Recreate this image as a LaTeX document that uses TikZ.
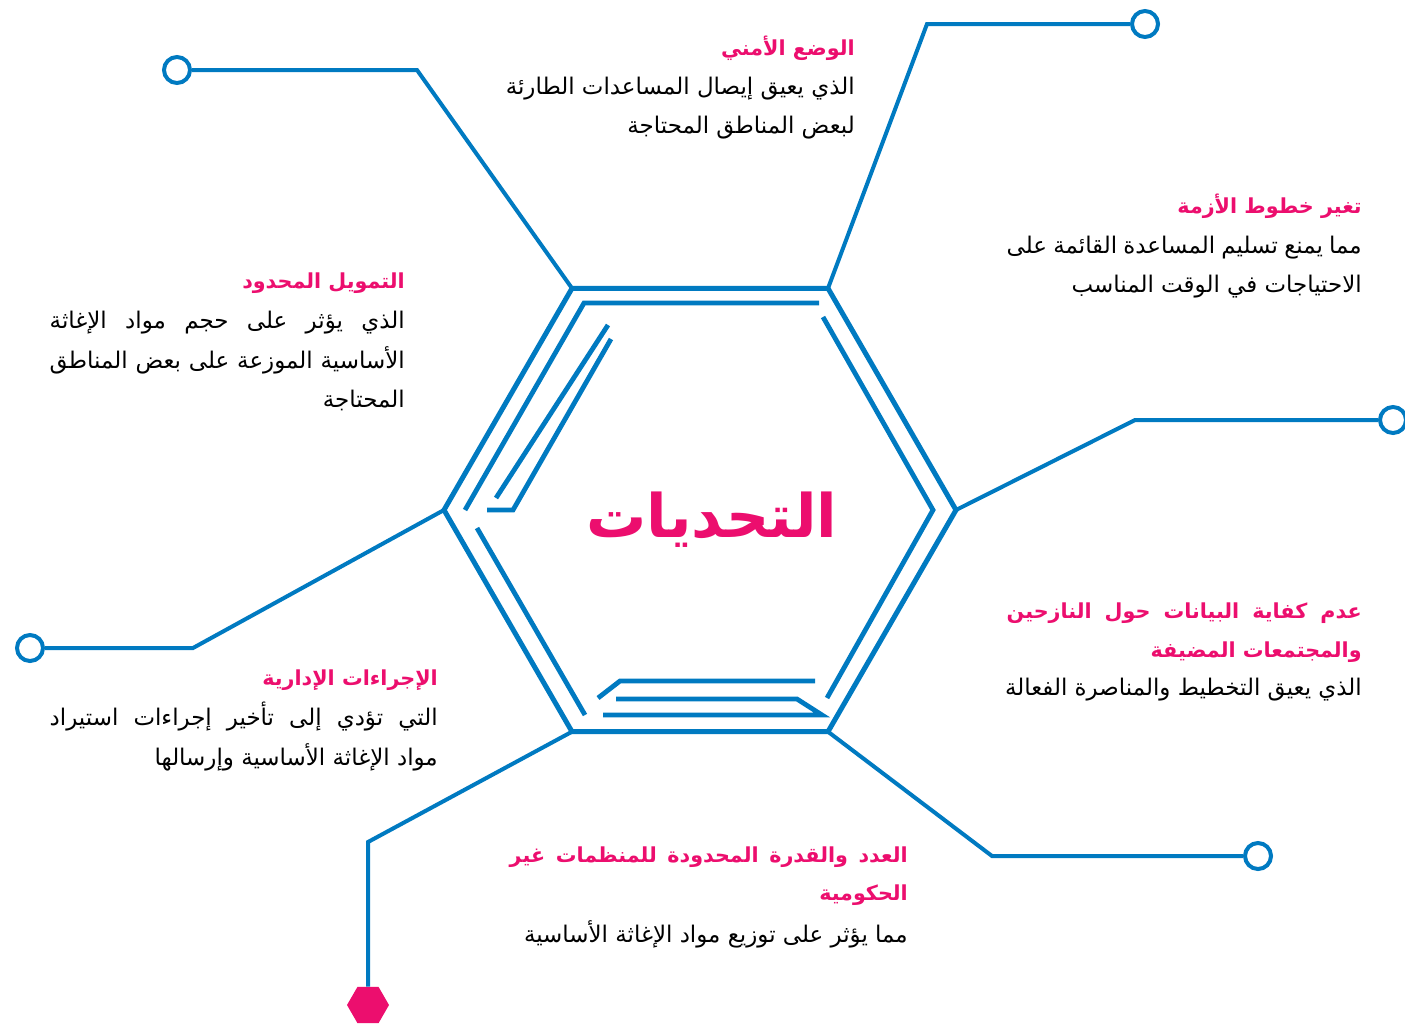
\documentclass[tikz,border=0pt]{standalone}
\usepackage{fontspec}
\newfontfamily\arfont[Script=Arabic]{DejaVu Sans}
\TeXXeTstate=1
\usetikzlibrary{shapes.geometric}
\definecolor{hexblue}{RGB}{0,122,193}
\definecolor{pinkred}{RGB}{236,14,110}
\newcommand\RL[1]{\beginR #1\endR}
\newcommand\JL[2]{\hbox to #1{\beginR #2\endR}}
\begin{document}
\begin{tikzpicture}[x=0.75pt,y=-0.75pt,
 hexline/.style={draw=hexblue, line width=3.75pt, line join=miter},
 inline/.style={draw=hexblue, line width=3.6pt},
 conn/.style={draw=hexblue, line width=3pt},
 endcirc/.style={circle, draw=hexblue, line width=3pt, fill=white, minimum size=19.5pt, inner sep=0pt},
 endhex/.style={regular polygon, regular polygon sides=6, fill=pinkred, minimum size=31.5pt, inner sep=0pt},
 ttl/.style={anchor=base east, inner sep=0pt, text=pinkred, font=\arfont\bfseries\fontsize{15.5}{20}\selectfont},
 bdy/.style={anchor=base east, inner sep=0pt, text=black, font=\arfont\fontsize{17.2}{20}\selectfont}]
\useasboundingbox (0,0) rectangle (1405,1025);
\fill[white] (0,0) rectangle (1405,1025);
% hexagon vertices
\coordinate (vtl) at (572,288.3);
\coordinate (vtr) at (828,288.3);
\coordinate (vr) at (956,510);
\coordinate (vbr) at (828,731.7);
\coordinate (vbl) at (572,731.7);
\coordinate (vl) at (444,510);
% connectors
\coordinate (k1) at (417,70);
\coordinate (k2) at (927,24);
\coordinate (k3) at (1135,420);
\coordinate (k4) at (193,648);
\coordinate (k5) at (992,856);
\coordinate (k6) at (368,842);
\node[endcirc] (c1) at (177,70) {};
\node[endcirc] (c2) at (1145,24) {};
\node[endcirc] (c3) at (1393,420) {};
\node[endcirc] (c4) at (30,648) {};
\node[endcirc] (c5) at (1258,856) {};
\node[endhex] (c6) at (368,1005) {};
\draw[conn] (vtl) -- (k1) -- (c1);
\draw[conn] (vtr) -- (k2) -- (c2);
\draw[conn] (vr) -- (k3) -- (c3);
\draw[conn] (vl) -- (k4) -- (c4);
\draw[conn] (vbr) -- (k5) -- (c5);
\draw[conn] (vbl) -- (k6) -- (c6.north);
% outer hexagon
\draw[hexline] (vtl) -- (vtr) -- (vr) -- (vbr) -- (vbl) -- (vl) -- cycle;
% inner lines
\draw[inline] (465,510) -- (584,303) -- (819,303);
\draw[inline] (496,498) -- (608,325);
\draw[inline] (487,510) -- (513,510) -- (611,339);
\draw[inline] (823,317) -- (933,510) -- (827,698);
\draw[inline] (477,528) -- (585,715);
\draw[inline] (598,698) -- (620,681) -- (815,681);
\draw[inline] (616,699) -- (797,699) -- (822,715) -- (603,715);
% centre title
\node[inner sep=0pt, anchor=base, text=pinkred, font=\arfont\bfseries\fontsize{45}{54}\selectfont] (title) at (712,537) {\RL{التحديات}};
% block 1
\node[ttl] (t1) at (855,55) {\RL{الوضع الأمني}};
\node[bdy] (b1a) at (855,94) {\RL{الذي يعيق إيصال المساعدات الطارئة}};
\node[bdy] (b1b) at (855,133) {\RL{لبعض المناطق المحتاجة}};
% block 2
\node[ttl] (t2) at (1362,213) {\RL{تغير خطوط الأزمة}};
\node[bdy] (b2a) at (1362,253) {\JL{266.25pt}{مما يمنع تسليم المساعدة القائمة على}};
\node[bdy] (b2b) at (1362,292) {\RL{الاحتياجات في الوقت المناسب}};
% block 3
\node[ttl] (t3) at (405,288) {\RL{التمويل المحدود}};
\node[bdy] (b3a) at (405,328) {\JL{266.25pt}{الذي يؤثر على حجم مواد الإغاثة}};
\node[bdy] (b3b) at (405,368) {\JL{266.25pt}{الأساسية الموزعة على بعض المناطق}};
\node[bdy] (b3c) at (405,407) {\RL{المحتاجة}};
% block 4
\node[ttl] (t4a) at (1362,618) {\JL{266.25pt}{عدم كفاية البيانات حول النازحين}};
\node[ttl] (t4b) at (1362,657) {\RL{والمجتمعات المضيفة}};
\node[bdy] (b4a) at (1362,695) {\RL{الذي يعيق التخطيط والمناصرة الفعالة}};
% block 5
\node[ttl] (t5) at (438,685) {\RL{الإجراءات الإدارية}};
\node[bdy] (b5a) at (438,725) {\JL{291pt}{التي تؤدي إلى تأخير إجراءات استيراد}};
\node[bdy] (b5b) at (438,765) {\RL{مواد الإغاثة الأساسية وإرسالها}};
% block 6
\node[ttl] (t6a) at (908,862) {\JL{298.5pt}{العدد والقدرة المحدودة للمنظمات غير}};
\node[ttl] (t6b) at (908,900) {\RL{الحكومية}};
\node[bdy] (b6a) at (908,942) {\RL{مما يؤثر على توزيع مواد الإغاثة الأساسية}};
\end{tikzpicture}
\end{document}
